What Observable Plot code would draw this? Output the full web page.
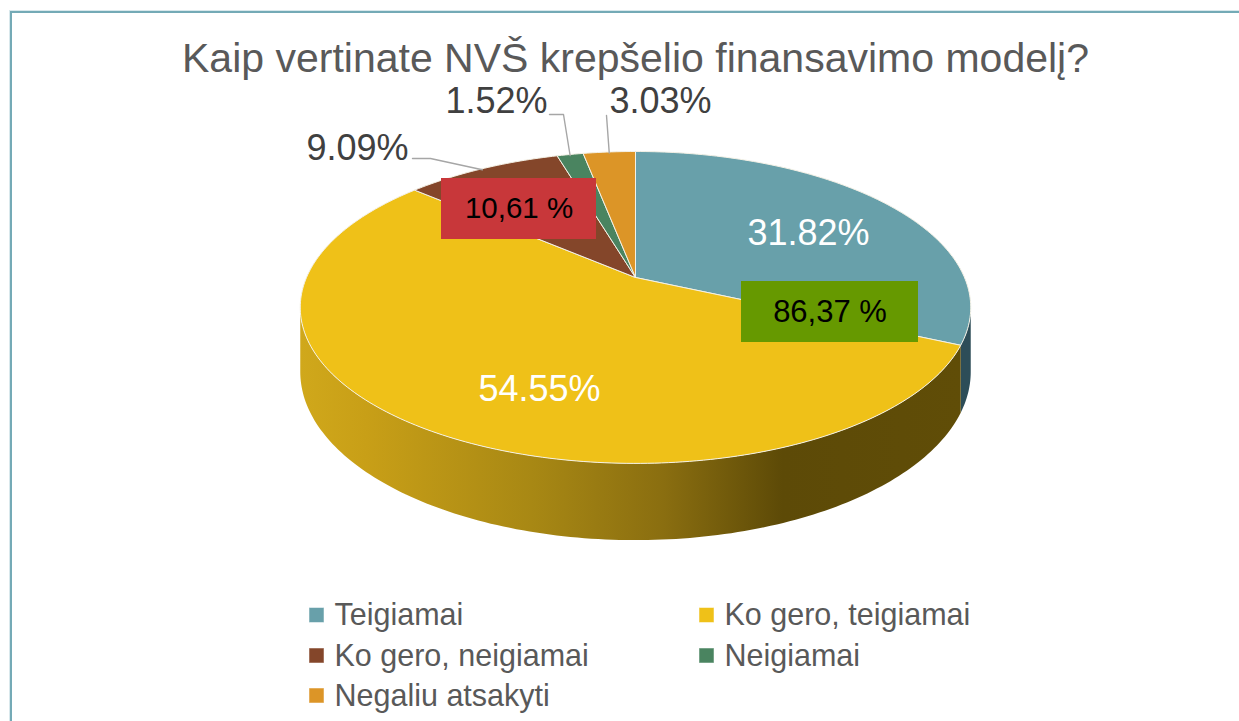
<!DOCTYPE html>
<html><head><meta charset="utf-8">
<script src="https://cdn.jsdelivr.net/npm/d3@7"></script>
<script src="https://cdn.jsdelivr.net/npm/@observablehq/plot@0.6"></script>
<style>
body{margin:0;background:#fff;overflow:hidden;width:1239px;height:721px}
#frame{position:absolute;left:10px;top:11px;width:1400px;height:900px;border-left:2px solid #74aab6;border-top:2px solid #74aab6;box-shadow:-1px -1px 0 #d8e8ec;}
#chart{position:absolute;left:0;top:0}
</style></head><body>
<div id="frame"></div><div id="chart"></div>
<script>
// ---- data ----
const title = "Kaip vertinate NVŠ krepšelio finansavimo modelį?";
const categories = ["Teigiamai", "Ko gero, teigiamai", "Ko gero, neigiamai", "Neigiamai", "Negaliu atsakyti"];
const values = [31.82, 54.55, 9.09, 1.52, 3.03];
const colors = ["#68a0aa", "#efc118", "#84462a", "#4a8460", "#dc9527"];
const groupMembers = [[2, 3], [0, 1]];          // annotation boxes: sums of slices
const groupColors = ["#c8373a", "#669900"];

// ---- layout (pixels) ----
const W = 1239, H = 721;
const cx = 635, cy = 277, sx = 329, sy = 150.2, k = 0.192, depth = 62;
const font = "Liberation Sans, Arial, sans-serif";

function proj(aDeg, r, h) {
  const a = aDeg * Math.PI / 180;
  const u = r * Math.sin(a), v = -r * Math.cos(a);
  const w = 1 - k * v;
  return {x: cx + sx * u / w, y: cy + sy * v / w + h / w};
}

const total = d3.sum(values);
let acc = 0;
const slices = values.map((v, i) => {
  const a1 = acc / total * 360; acc += v; const a2 = acc / total * 360;
  return {i, v, a1, a2, mid: (a1 + a2) / 2, color: colors[i]};
});

function arcPts(a1, a2, r, h) {
  const n = Math.max(2, Math.ceil(Math.abs(a2 - a1)));
  return d3.range(n + 1).map(j => proj(a1 + (a2 - a1) * j / n, r, h));
}

// top faces
const tops = slices.map(s => {
  const c = proj(0, 0, 0);
  return [c, ...arcPts(s.a1, s.a2, 1, 0), c];
});

// visible front side walls
const aL = Math.acos(-k) * 180 / Math.PI, aR = 360 - aL;
const sideFill = ["#2d4d58", "url(#sideGrad)", "#4a2616", "#274a36", "#7a5214"];
const sides = slices.map(s => {
  const b1 = Math.max(s.a1, aL), b2 = Math.min(s.a2, aR);
  if (b2 <= b1) return null;
  const topRim = arcPts(b1, b2, 1, 0);
  const botRim = arcPts(b2, b1, 1, depth);
  return {fill: sideFill[s.i], pts: [...topRim, ...botRim, topRim[0]]};
}).filter(d => d);

// data labels
const fmt = v => v.toFixed(2) + "%";
const labelPos = [
  {x: 808, y: 233, fill: "white"},
  {x: 539, y: 389, fill: "white"},
  {x: 357, y: 148, fill: "#404040", lead: [[412, 158], [430, 158]]},
  {x: 496, y: 101, fill: "#404040", lead: [[549, 114], [563, 114]]},
  {x: 660, y: 101, fill: "#404040", lead: [[606, 115]]}
];
const labels = slices.map(s => ({...labelPos[s.i], text: fmt(s.v)}));
const leaders = slices.filter(s => labelPos[s.i].lead).map(s => {
  const end = proj(s.mid, 1, 0);
  return [...labelPos[s.i].lead.map(([x, y]) => ({x, y})), {x: end.x, y: end.y + 1}];
});

// annotation boxes
const boxPos = [{x: 518.5, y: 208.5, w: 155, h: 61, fs: 29.5}, {x: 829.5, y: 311.5, w: 177, h: 61, fs: 31}];
const boxes = groupMembers.map((m, j) => ({
  ...boxPos[j], fill: groupColors[j],
  text: d3.sum(m, i => values[i]).toFixed(2).replace(".", ",") + " %"
}));

// legend
const legPos = [{x: 309, y: 615}, {x: 699, y: 615}, {x: 309, y: 655.5}, {x: 699, y: 655.5}, {x: 309, y: 695.5}];
const legend = categories.map((c, i) => ({...legPos[i], text: c, color: colors[i]}));

const marks = [];
sides.forEach(s => marks.push(Plot.line(s.pts, {x: "x", y: "y", fill: s.fill, stroke: "none", curve: "linear"})));
tops.forEach((t, i) => marks.push(Plot.line(t, {x: "x", y: "y", fill: colors[i], stroke: "#f4f1e6", strokeWidth: 1, strokeLinejoin: "round", curve: "linear"})));
leaders.forEach(l => marks.push(Plot.line(l, {x: "x", y: "y", stroke: "#a6a6a6", strokeWidth: 1.4, curve: "linear"})));
marks.push(Plot.text(labels, {x: "x", y: "y", text: "text", fill: "fill", fontSize: 36, fontFamily: font}));
marks.push(Plot.rect(boxes, {x1: d => d.x - d.w / 2, x2: d => d.x + d.w / 2, y1: d => d.y - d.h / 2, y2: d => d.y + d.h / 2, fill: "fill"}));
marks.push(Plot.text(boxes, {x: "x", y: "y", text: "text", fill: "black", fontSize: d => d.fs, fontFamily: font}));
marks.push(Plot.text([title], {x: () => 635, y: () => 58, text: d => d, fill: "#595959", fontSize: 41, fontFamily: font}));
marks.push(Plot.rect(legend, {x1: d => d.x, x2: d => d.x + 15, y1: d => d.y - 7.5, y2: d => d.y + 7.5, fill: "color", stroke: "#ffffff", strokeOpacity: 0.5, strokeWidth: 1}));
marks.push(Plot.text(legend, {x: d => d.x + 25, y: "y", text: "text", textAnchor: "start", fill: "#595959", fontSize: 30.5, fontFamily: font}));

const svg = Plot.plot({
  width: W, height: H, margin: 0,
  x: {domain: [0, W], range: [0, W], axis: null},
  y: {domain: [0, H], range: [0, H], axis: null},
  color: {type: "identity"},
  style: {background: "transparent", fontFamily: font},
  marks
});
const defs = document.createElementNS("http://www.w3.org/2000/svg", "defs");
defs.innerHTML = `<linearGradient id="sideGrad" x1="0" x2="1" y1="0" y2="0">
<stop offset="0" stop-color="#d0a81b"/><stop offset="0.1" stop-color="#c89f17"/>
<stop offset="0.35" stop-color="#a88814"/><stop offset="0.55" stop-color="#8a6e10"/>
<stop offset="0.73" stop-color="#5d4a07"/><stop offset="1" stop-color="#604d07"/></linearGradient>`;
svg.insertBefore(defs, svg.firstChild);
document.getElementById("chart").appendChild(svg);
</script>
</body></html>
